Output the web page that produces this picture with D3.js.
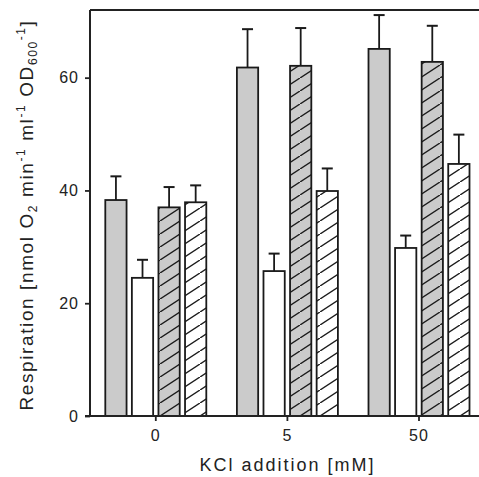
<html>
  <head>
    <meta charset="utf-8">
    <script src="https://cdn.jsdelivr.net/npm/d3@7"></script>
    <style>
      body { margin: 0; background: #fff; }
      text { font-family: "Liberation Sans", Arial, sans-serif; fill: #222; }
    </style>
  </head>
  <body>
<div id="chart"></div>
<script>

let width = 479;
let height = 477;

// KCl additions (mM) on the x axis
let kcl = ['0', '5', '50'];
let series = ['gray', 'white', 'grayHatch', 'whiteHatch'];

// respiration means and error bar heights
let grayVals = [38.3, 61.8, 65.1];
let grayErr = [4.2, 6.8, 6.0];
let whiteVals = [24.5, 25.7, 29.8];
let whiteErr = [3.2, 3.1, 2.2];
let grayHatchVals = [37.0, 62.1, 62.8];
let grayHatchErr = [3.6, 6.7, 6.4];
let whiteHatchVals = [37.9, 39.9, 44.7];
let whiteHatchErr = [3.0, 4.0, 5.2];

let yTicks = [0, 20, 40, 60];

let rows = [];
let vals = [grayVals, whiteVals, grayHatchVals, whiteHatchVals];
let errs = [grayErr, whiteErr, grayHatchErr, whiteHatchErr];
kcl.forEach(function(k, i) {
    series.forEach(function(s, j) {
        rows.push({ kcl: k, series: s, value: vals[j][i], err: errs[j][i] });
    });
});

let plotLeft = 90, plotTop = 10, plotBottom = 416;

let x = d3.scaleBand().domain(kcl).range([plotLeft, plotLeft + 3 * 131.6]);
let xs = d3.scaleBand().domain(series).range([-50.5, 50.5]).paddingInner(0.2);
let y = d3.scaleLinear().domain([0, 72]).range([plotBottom, plotTop]);

let svg = d3.select('#chart')
    .append('svg')
    .attr('width', width)
    .attr('height', height);

let defs = svg.append('defs');
['hatchGray', 'hatchWhite'].forEach(function(id) {
    let p = defs.append('pattern')
        .attr('id', id)
        .attr('patternUnits', 'userSpaceOnUse')
        .attr('width', 20)
        .attr('height', 13);
    p.append('rect')
        .attr('width', 20).attr('height', 13)
        .attr('fill', id == 'hatchGray' ? '#cbcbcb' : '#fff');
    p.append('path')
        .attr('d', 'M-2,14.3 L22,-1.3')
        .attr('stroke', '#1a1a1a')
        .attr('stroke-width', 1.4);
});

let fills = {
    gray: '#cbcbcb',
    white: '#ffffff',
    grayHatch: 'url(#hatchGray)',
    whiteHatch: 'url(#hatchWhite)'
};

// error bars
let eb = svg.append('g').attr('class', 'errors');
rows.forEach(function(d) {
    let cx = x(d.kcl) + x.bandwidth() / 2 + xs(d.series) + xs.bandwidth() / 2;
    eb.append('line')
        .attr('x1', cx).attr('x2', cx)
        .attr('y1', y(d.value)).attr('y2', y(d.value + d.err))
        .attr('stroke', '#1a1a1a').attr('stroke-width', 1.8);
    eb.append('line')
        .attr('x1', cx - 5.5).attr('x2', cx + 5.5)
        .attr('y1', y(d.value + d.err)).attr('y2', y(d.value + d.err))
        .attr('stroke', '#1a1a1a').attr('stroke-width', 2);
});

// bars
svg.append('g')
    .selectAll('rect')
    .data(rows)
    .enter()
    .append('rect')
    .attr('x', function(d) { return x(d.kcl) + x.bandwidth() / 2 + xs(d.series); })
    .attr('y', function(d) { return y(d.value); })
    .attr('width', xs.bandwidth())
    .attr('height', function(d) { return y(0) - y(d.value); })
    .attr('fill', function(d) { return fills[d.series]; })
    .attr('stroke', '#1a1a1a')
    .attr('stroke-width', 1.8);

// frame top line
svg.append('line')
    .attr('x1', plotLeft).attr('x2', width)
    .attr('y1', plotTop).attr('y2', plotTop)
    .attr('stroke', '#222').attr('stroke-width', 2);

// axes
let yAxis = svg.append('g')
    .attr('transform', 'translate(' + plotLeft + ',0)')
    .call(d3.axisLeft(y).tickValues(yTicks).tickSize(5).tickPadding(6));
let xAxis = svg.append('g')
    .attr('transform', 'translate(0,' + plotBottom + ')')
    .call(d3.axisBottom(x).tickSize(5).tickPadding(9));

[yAxis, xAxis].forEach(function(a) {
    a.select('.domain').attr('stroke', '#222').attr('stroke-width', 2);
    a.selectAll('.tick line').attr('stroke', '#222').attr('stroke-width', 1.8);
    a.selectAll('.tick text')
        .attr('fill', '#222')
        .style('font-size', '16px')
        .style('letter-spacing', '1px')
        .style('font-family', '"Liberation Sans", Arial, sans-serif');
});
yAxis.select('.domain').attr('d', 'M0,' + plotTop + 'V' + plotBottom);
xAxis.select('.domain').attr('d', 'M' + (plotLeft - 5) + ',0H' + width);

// axis titles
svg.append('text')
    .attr('x', 287.5)
    .attr('y', 471)
    .attr('text-anchor', 'middle')
    .style('font-size', '18px')
    .style('letter-spacing', '2px')
    .text('KCl addition [mM]');

let yl = svg.append('text')
    .attr('transform', 'translate(33,215) rotate(-90)')
    .attr('text-anchor', 'middle')
    .style('font-size', '19px')
    .style('letter-spacing', '1.6px');
yl.append('tspan').text('Respiration [nmol O');
yl.append('tspan').attr('dy', 4).style('font-size', '12px').text('2');
yl.append('tspan').attr('dy', -4).text(' min');
yl.append('tspan').attr('dy', -8).style('font-size', '12px').text('-1');
yl.append('tspan').attr('dy', 8).text(' ml');
yl.append('tspan').attr('dy', -8).style('font-size', '12px').text('-1');
yl.append('tspan').attr('dy', 8).text(' OD');
yl.append('tspan').attr('dy', 4).style('font-size', '12px').text('600');
yl.append('tspan').attr('dy', -12).style('font-size', '12px').text('-1');
yl.append('tspan').attr('dy', 8).text(']');

</script>
  </body>
</html>
